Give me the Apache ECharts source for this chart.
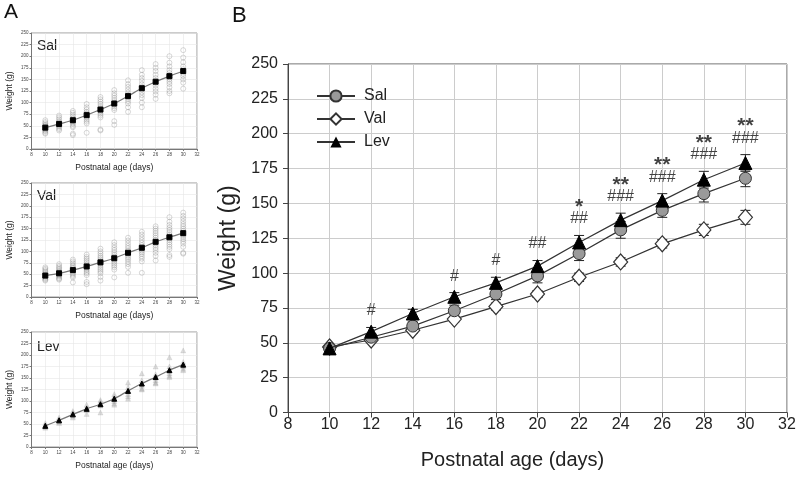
<!DOCTYPE html>
<html><head><meta charset="utf-8">
<script src="https://cdn.jsdelivr.net/npm/echarts@6/dist/echarts.min.js"></script>
<style>html,body{margin:0;padding:0;background:#fff}#c{width:800px;height:477px}</style>
</head><body><div id="c"></div>
<script>
// ---- data ----
var days = [10, 12, 14, 16, 18, 20, 22, 24, 26, 28, 30];
var salMean = [46, 54, 62, 73, 85, 98, 114, 131, 145, 157, 168];
var valMean = [47, 52, 59, 67, 76, 85, 97, 108, 121, 131, 140];
var levMean = [46, 58, 71, 83, 93, 105, 122, 138, 152, 167, 179];
var salErr = [2, 2, 3, 4, 4, 5, 5, 6, 5, 6, 6];
var valErr = [1.5, 1.5, 2, 2, 2.5, 2.5, 3, 3, 3, 4, 5];
var levErr = [2, 3, 3, 3, 4, 4, 5, 5, 5, 6, 6];
var starMarks = ['', '', '', '', '', '', '*', '**', '**', '**', '**'];
var hashMarks = ['', '#', '', '#', '#', '##', '##', '###', '###', '###', '###'];
var yTicks = [0, 25, 50, 75, 100, 125, 150, 175, 200, 225, 250];
var xTicks = [8, 10, 12, 14, 16, 18, 20, 22, 24, 26, 28, 30, 32];

// individual animals (panel A)
var salPoints = [
  [62, 58, 55, 52, 50, 48, 46, 44, 42, 40, 38, 35, 33],
  [72, 68, 64, 60, 57, 55, 53, 51, 49, 46, 43, 40],
  [82, 78, 74, 70, 66, 63, 60, 57, 54, 50, 47, 33, 30],
  [97, 90, 85, 80, 77, 74, 70, 67, 63, 59, 55, 35],
  [112, 107, 102, 97, 92, 88, 84, 80, 76, 72, 68, 42, 40],
  [127, 120, 115, 110, 105, 100, 96, 92, 88, 84, 60, 52],
  [148, 140, 134, 128, 122, 117, 112, 108, 103, 98, 90, 80],
  [170, 160, 153, 147, 140, 134, 128, 122, 116, 110, 100, 90],
  [183, 175, 168, 160, 153, 147, 142, 137, 130, 124, 117, 108],
  [200, 186, 178, 170, 164, 159, 154, 150, 145, 140, 133, 125, 120],
  [213, 197, 187, 178, 172, 167, 162, 157, 150, 143, 130]
];
var valPoints = [
  [65, 62, 59, 56, 53, 50, 48, 46, 44, 42, 40, 38, 36],
  [72, 68, 65, 62, 59, 56, 53, 51, 49, 47, 45, 42, 40, 38],
  [82, 78, 74, 70, 67, 64, 61, 58, 55, 52, 49, 46, 43, 32],
  [93, 88, 84, 80, 76, 72, 68, 65, 62, 59, 55, 52, 48, 33, 28],
  [106, 100, 95, 90, 86, 82, 78, 75, 72, 68, 64, 60, 56, 52, 44, 36],
  [120, 114, 108, 103, 98, 93, 89, 85, 81, 77, 73, 69, 65, 60, 43],
  [130, 124, 118, 112, 107, 102, 98, 94, 90, 86, 82, 77, 72, 66, 53],
  [143, 137, 131, 125, 119, 114, 110, 106, 102, 98, 94, 89, 84, 78, 53],
  [155, 150, 145, 140, 135, 130, 125, 121, 117, 113, 108, 103, 97, 90, 80],
  [175, 165, 158, 152, 147, 142, 137, 133, 129, 125, 120, 115, 110, 105, 92, 88],
  [185, 178, 172, 166, 160, 155, 150, 145, 140, 136, 132, 127, 122, 117, 110, 97, 95]
];
var levPoints = [
  [52, 48, 46, 44, 42],
  [64, 60, 58, 55, 52],
  [78, 74, 71, 68, 64],
  [92, 86, 83, 80, 72],
  [102, 98, 93, 90, 75],
  [115, 110, 105, 100, 95, 92],
  [140, 130, 122, 115, 110, 105],
  [160, 145, 138, 133, 127, 125],
  [175, 158, 152, 145, 140, 138],
  [195, 175, 167, 160, 155, 152],
  [210, 185, 180, 175, 170, 167]
];

// ---- helpers ----
var FONT = '"Liberation Sans", Arial, sans-serif';
function pairs(y) { return days.map(function (d, i) { return [d, y[i]]; }); }
function flatPts(p) { var o = []; p.forEach(function (arr, i) { arr.forEach(function (v) { o.push([days[i], v]); }); }); return o; }
function errData(m, e) { return days.map(function (d, i) { return [d, m[i] - e[i], m[i] + e[i]]; }); }
function errRender(params, api) {
  var x = api.value(0), lo = api.coord([x, api.value(1)]), hi = api.coord([x, api.value(2)]);
  var w = 5, st = { stroke: '#222', lineWidth: 1 };
  return { type: 'group', children: [
    { type: 'line', shape: { x1: hi[0], y1: hi[1], x2: lo[0], y2: lo[1] }, style: st },
    { type: 'line', shape: { x1: hi[0] - w, y1: hi[1], x2: hi[0] + w, y2: hi[1] }, style: st },
    { type: 'line', shape: { x1: lo[0] - w, y1: lo[1], x2: lo[0] + w, y2: lo[1] }, style: st }
  ]};
}

var smallGrids = [
  { left: 31.5, top: 33, width: 165.5, height: 116 },
  { left: 31.5, top: 183, width: 165.5, height: 114 },
  { left: 31.5, top: 332, width: 165.5, height: 115 }
];
var grids = smallGrids.map(function (g) {
  return Object.assign({ show: true, borderColor: '#999', borderWidth: 1 }, g);
});
grids.push({ left: 288, top: 64, width: 499, height: 348.5, show: true, borderColor: '#555', borderWidth: 1 });

var xAxes = [], yAxes = [];
for (var i = 0; i < 3; i++) {
  xAxes.push({ type: 'value', gridIndex: i, min: 8, max: 32, interval: 2,
    name: 'Postnatal age (days)', nameLocation: 'middle', nameGap: 14,
    nameTextStyle: { fontSize: 8.5, fontFamily: FONT, color: '#222' },
    axisLine: { lineStyle: { color: '#777', width: 1 } },
    axisTick: { show: true, length: 2, lineStyle: { color: '#777' } },
    axisLabel: { fontSize: 4.5, color: '#444', margin: 3, fontFamily: FONT },
    splitLine: { show: true, lineStyle: { color: '#e6e6e6', width: 0.6 } } });
  yAxes.push({ type: 'value', gridIndex: i, min: 0, max: 250, interval: 25,
    name: 'Weight (g)', nameLocation: 'middle', nameGap: 17,
    nameTextStyle: { fontSize: 8.5, fontFamily: FONT, color: '#222' },
    axisLine: { lineStyle: { color: '#777', width: 1 } },
    axisTick: { show: true, length: 2, lineStyle: { color: '#777' } },
    axisLabel: { fontSize: 4.5, color: '#444', margin: 3, fontFamily: FONT },
    splitLine: { show: true, lineStyle: { color: '#e6e6e6', width: 0.6 } } });
}
xAxes.push({ type: 'value', gridIndex: 3, min: 8, max: 32, interval: 2,
  name: 'Postnatal age (days)', nameLocation: 'middle', nameGap: 38,
  nameTextStyle: { fontSize: 20, fontFamily: FONT, color: '#222', padding: [0, 50, 0, 0] },
  axisLine: { lineStyle: { color: '#444', width: 1 } },
  axisTick: { show: true, length: 5, lineStyle: { color: '#444' } },
  axisLabel: { fontSize: 16, color: '#222', margin: 4, fontFamily: FONT },
  splitLine: { show: true, lineStyle: { color: '#cccccc', width: 1 } } });
yAxes.push({ type: 'value', gridIndex: 3, min: 0, max: 250, interval: 25,
  name: 'Weight (g)', nameLocation: 'middle', nameGap: 43,
  nameTextStyle: { fontSize: 23, fontFamily: FONT, color: '#222' },
  axisLine: { lineStyle: { color: '#444', width: 1 } },
  axisTick: { show: true, length: 5, lineStyle: { color: '#444' } },
  axisLabel: { fontSize: 16, color: '#222', margin: 10, fontFamily: FONT },
  splitLine: { show: true, lineStyle: { color: '#cccccc', width: 1 } } });

var series = [];
// panel A
var smallSets = [
  { pts: salPoints, mean: salMean, shape: 'circle', meanShape: 'rect' },
  { pts: valPoints, mean: valMean, shape: 'circle', meanShape: 'rect' },
  { pts: levPoints, mean: levMean, shape: 'triangle', meanShape: 'triangle' }
];
smallSets.forEach(function (s, gi) {
  series.push({ type: 'scatter', xAxisIndex: gi, yAxisIndex: gi, data: flatPts(s.pts),
    symbol: s.shape, symbolSize: 5, silent: true,
    itemStyle: s.shape === 'circle'
      ? { color: 'rgba(255,255,255,0)', borderColor: 'rgba(120,120,120,0.45)', borderWidth: 0.8 }
      : { color: 'rgba(150,150,150,0.4)', borderColor: 'rgba(150,150,150,0.45)', borderWidth: 0.5 } });
  series.push({ type: 'line', xAxisIndex: gi, yAxisIndex: gi, data: pairs(s.mean), smooth: 0.3,
    symbol: s.meanShape, symbolSize: 5, showSymbol: true, silent: true,
    lineStyle: { color: '#777', width: 1.2 }, itemStyle: { color: '#000', borderColor: '#000' } });
});
// panel B error bars
[[salMean, salErr], [valMean, valErr], [levMean, levErr]].forEach(function (p) {
  series.push({ type: 'custom', xAxisIndex: 3, yAxisIndex: 3, renderItem: errRender,
    data: errData(p[0], p[1]), silent: true, z: 1 });
});
series.push({ name: 'Val', type: 'line', xAxisIndex: 3, yAxisIndex: 3, data: pairs(valMean),
  symbol: 'diamond', symbolSize: [14, 16], z: 3,
  lineStyle: { color: '#333', width: 1.2 }, itemStyle: { color: '#fff', borderColor: '#333', borderWidth: 1.2 } });
series.push({ name: 'Sal', type: 'line', xAxisIndex: 3, yAxisIndex: 3, data: pairs(salMean),
  symbol: 'circle', symbolSize: 12, z: 4,
  lineStyle: { color: '#333', width: 1.2 }, itemStyle: { color: '#9a9a9a', borderColor: '#333', borderWidth: 1 } });
series.push({ name: 'Lev', type: 'line', xAxisIndex: 3, yAxisIndex: 3, data: pairs(levMean),
  symbol: 'triangle', symbolSize: 13, z: 5,
  lineStyle: { color: '#333', width: 1.2 }, itemStyle: { color: '#000', borderColor: '#000' } });
// significance marks
var annData = [];
days.forEach(function (d, i) { if (hashMarks[i] || starMarks[i]) annData.push({ value: [d, levMean[i] + levErr[i]], idx: i }); });
series.push({ type: 'scatter', xAxisIndex: 3, yAxisIndex: 3, data: annData, symbolSize: 0, silent: true, z: 6,
  label: { show: true, position: 'top', distance: 9, align: 'center',
    formatter: function (p) {
      var i = p.data.idx;
      return (starMarks[i] ? '{s|' + starMarks[i] + '}\n' : '') + '{h|' + hashMarks[i] + '}';
    },
    rich: {
      s: { fontSize: 21, fontWeight: 'bold', fontFamily: FONT, color: '#111', lineHeight: 14, padding: [6, 0, 0, 0] },
      h: { fontSize: 16, fontFamily: FONT, color: '#111', lineHeight: 15 }
    } } });

var option = {
  animation: false,
  backgroundColor: '#fff',
  grid: grids, xAxis: xAxes, yAxis: yAxes, series: series,
  legend: { data: ['Sal', 'Val', 'Lev'], orient: 'vertical', left: 316, top: 88, padding: 0,
    itemWidth: 38, itemHeight: 14, itemGap: 7,
    textStyle: { fontSize: 16, fontFamily: FONT, color: '#222', padding: [0, 0, 0, 4] } },
  graphic: [
    { type: 'text', left: 4, top: 2, style: { text: 'A', fontSize: 21, fontFamily: FONT, fill: '#111' } },
    { type: 'text', left: 232, top: 5, style: { text: 'B', fontSize: 22, fontFamily: FONT, fill: '#111' } },
    { type: 'text', left: 37, top: 39, style: { text: 'Sal', fontSize: 14, fontFamily: FONT, fill: '#222' } },
    { type: 'text', left: 37, top: 189, style: { text: 'Val', fontSize: 14, fontFamily: FONT, fill: '#222' } },
    { type: 'text', left: 37, top: 340, style: { text: 'Lev', fontSize: 14, fontFamily: FONT, fill: '#222' } }
  ]
};
echarts.init(document.getElementById('c')).setOption(option);
</script></body></html>
